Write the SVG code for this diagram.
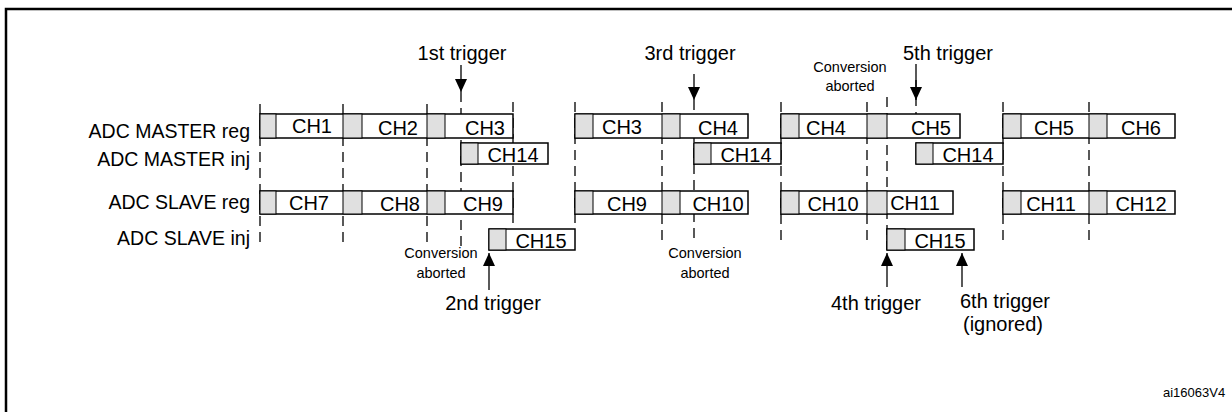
<svg xmlns="http://www.w3.org/2000/svg" width="1232" height="412" viewBox="0 0 1232 412">
<defs>
<style>
text{font-family:"Liberation Sans",Arial,sans-serif;fill:#000}
.lbl{font-size:19.5px;text-anchor:end}
.ch{font-size:20px;text-anchor:middle}
.tr{font-size:20px;text-anchor:middle}
.sm{font-size:14.5px;text-anchor:middle}
.box{fill:#fff;stroke:#000;stroke-width:1.5}
.g{fill:#e0e0e0;stroke:#000;stroke-width:1}
.d{stroke:#000;stroke-width:1.3;stroke-dasharray:10 6;fill:none}
.a{stroke:#000;stroke-width:1.3;fill:none}
</style>
<marker id="ah" viewBox="0 0 10 10" refX="10" refY="5" markerWidth="13" markerHeight="12" orient="auto" markerUnits="userSpaceOnUse" preserveAspectRatio="none"><path d="M0,0 L10,5 L0,10 z" fill="#000"/></marker>
</defs>
<rect x="6" y="9" width="1240" height="420" fill="none" stroke="#000" stroke-width="2.5"/>
<g id="labels">
<text class="lbl" x="250" y="138">ADC MASTER reg</text>
<text class="lbl" x="250" y="166">ADC MASTER inj</text>
<text class="lbl" x="250" y="209">ADC SLAVE reg</text>
<text class="lbl" x="250" y="245">ADC SLAVE inj</text>
</g>
<g id="connectors">
<line class="d" x1="260" y1="104" x2="260" y2="242"/>
<line class="d" x1="343" y1="104" x2="343" y2="242"/>
<line class="d" x1="427" y1="104" x2="427" y2="242"/>
<line class="d" x1="461" y1="92" x2="461" y2="250"/>
<line class="d" x1="513" y1="102" x2="513" y2="223"/>
<line class="d" x1="575" y1="102" x2="575" y2="223"/>
<line class="d" x1="662" y1="102" x2="662" y2="240"/>
<line class="d" x1="694" y1="100" x2="694" y2="240"/>
<line class="d" x1="781" y1="102" x2="781" y2="240"/>
<line class="d" x1="867" y1="102" x2="867" y2="240"/>
<line class="d" x1="887" y1="97" x2="887" y2="250"/>
<line class="d" x1="916" y1="64" x2="916" y2="143"/>
<line class="d" x1="1003" y1="102" x2="1003" y2="240"/>
<line class="d" x1="1089" y1="102" x2="1089" y2="240"/>
<line class="a" x1="461" y1="65" x2="461" y2="92" marker-end="url(#ah)"/>
<line class="a" x1="694" y1="74" x2="694" y2="100" marker-end="url(#ah)"/>
<line class="a" x1="916" y1="74" x2="916" y2="100" marker-end="url(#ah)"/>
<line class="a" x1="489" y1="290" x2="489" y2="253" marker-end="url(#ah)"/>
<line class="a" x1="887" y1="287" x2="887" y2="253" marker-end="url(#ah)"/>
<line class="a" x1="962" y1="287" x2="962" y2="253" marker-end="url(#ah)"/>
</g>
<g id="master-reg">
<rect class="box" x="260" y="114" width="253" height="24"/>
<rect class="g" x="260" y="114" width="16" height="24"/><rect class="g" x="343" y="114" width="19" height="24"/><rect class="g" x="427" y="114" width="18" height="24"/>
<text class="ch" x="312" y="133">CH1</text><text class="ch" x="398" y="135">CH2</text><text class="ch" x="485" y="135">CH3</text>
<rect class="box" x="575" y="114" width="173" height="24"/>
<rect class="g" x="575" y="114" width="18" height="24"/><rect class="g" x="662" y="114" width="18" height="24"/>
<text class="ch" x="622" y="134">CH3</text><text class="ch" x="718" y="135">CH4</text>
<rect class="box" x="781" y="114" width="179" height="24"/>
<rect class="g" x="781" y="114" width="18" height="24"/><rect class="g" x="867" y="114" width="20" height="24"/>
<text class="ch" x="826" y="135">CH4</text><text class="ch" x="931" y="135">CH5</text>
<rect class="box" x="1003" y="114" width="172" height="24"/>
<rect class="g" x="1003" y="114" width="18" height="24"/><rect class="g" x="1089" y="114" width="18" height="24"/>
<text class="ch" x="1054" y="135">CH5</text><text class="ch" x="1141" y="135">CH6</text>
</g>
<g id="master-inj">
<rect class="box" x="461" y="143" width="87" height="21"/><rect class="g" x="461" y="143" width="17" height="21"/>
<text class="ch" x="513" y="162">CH14</text>
<rect class="box" x="694" y="143" width="87" height="21"/><rect class="g" x="694" y="143" width="17" height="21"/>
<text class="ch" x="746" y="162">CH14</text>
<rect class="box" x="916" y="143" width="87" height="21"/><rect class="g" x="916" y="143" width="17" height="21"/>
<text class="ch" x="968" y="162">CH14</text>
</g>
<g id="slave-reg">
<rect class="box" x="260" y="191" width="253" height="23"/>
<rect class="g" x="260" y="191" width="16" height="23"/><rect class="g" x="343" y="191" width="19" height="23"/><rect class="g" x="427" y="191" width="18" height="23"/>
<text class="ch" x="309" y="210">CH7</text><text class="ch" x="400" y="211">CH8</text><text class="ch" x="483" y="211">CH9</text>
<rect class="box" x="575" y="191" width="173" height="23"/>
<rect class="g" x="575" y="191" width="18" height="23"/><rect class="g" x="662" y="191" width="18" height="23"/>
<text class="ch" x="627" y="211">CH9</text><text class="ch" x="718" y="211">CH10</text>
<rect class="box" x="781" y="191" width="172" height="23"/>
<rect class="g" x="781" y="191" width="18" height="23"/><rect class="g" x="867" y="191" width="20" height="23"/>
<text class="ch" x="833" y="211">CH10</text><text class="ch" x="915" y="210">CH11</text>
<rect class="box" x="1003" y="191" width="172" height="23"/>
<rect class="g" x="1003" y="191" width="18" height="23"/><rect class="g" x="1089" y="191" width="18" height="23"/>
<text class="ch" x="1051" y="211">CH11</text><text class="ch" x="1141" y="211">CH12</text>
</g>
<g id="slave-inj">
<rect class="box" x="489" y="229" width="86" height="21"/><rect class="g" x="489" y="229" width="17" height="21"/>
<text class="ch" x="541" y="248">CH15</text>
<rect class="box" x="887" y="229" width="87" height="21"/><rect class="g" x="887" y="229" width="18" height="21"/>
<text class="ch" x="940" y="248">CH15</text>
</g>
<g id="triggers">
<text class="tr" x="462" y="60">1st trigger</text>
<text class="tr" x="690" y="60">3rd trigger</text>
<text class="tr" x="948" y="60">5th trigger</text>
<text class="sm" x="850" y="72">Conversion</text><text class="sm" x="850" y="91">aborted</text>
<text class="sm" x="441" y="258">Conversion</text><text class="sm" x="441" y="278">aborted</text>
<text class="sm" x="705" y="258">Conversion</text><text class="sm" x="705" y="278">aborted</text>
<text class="tr" x="493" y="310">2nd trigger</text>
<text class="tr" x="876" y="310">4th trigger</text>
<text class="tr" x="1005" y="308">6th trigger</text>
<text class="tr" x="1003" y="331">(ignored)</text>
<text style="font-size:13px" x="1163" y="397">ai16063V4</text>
</g>
</svg>
